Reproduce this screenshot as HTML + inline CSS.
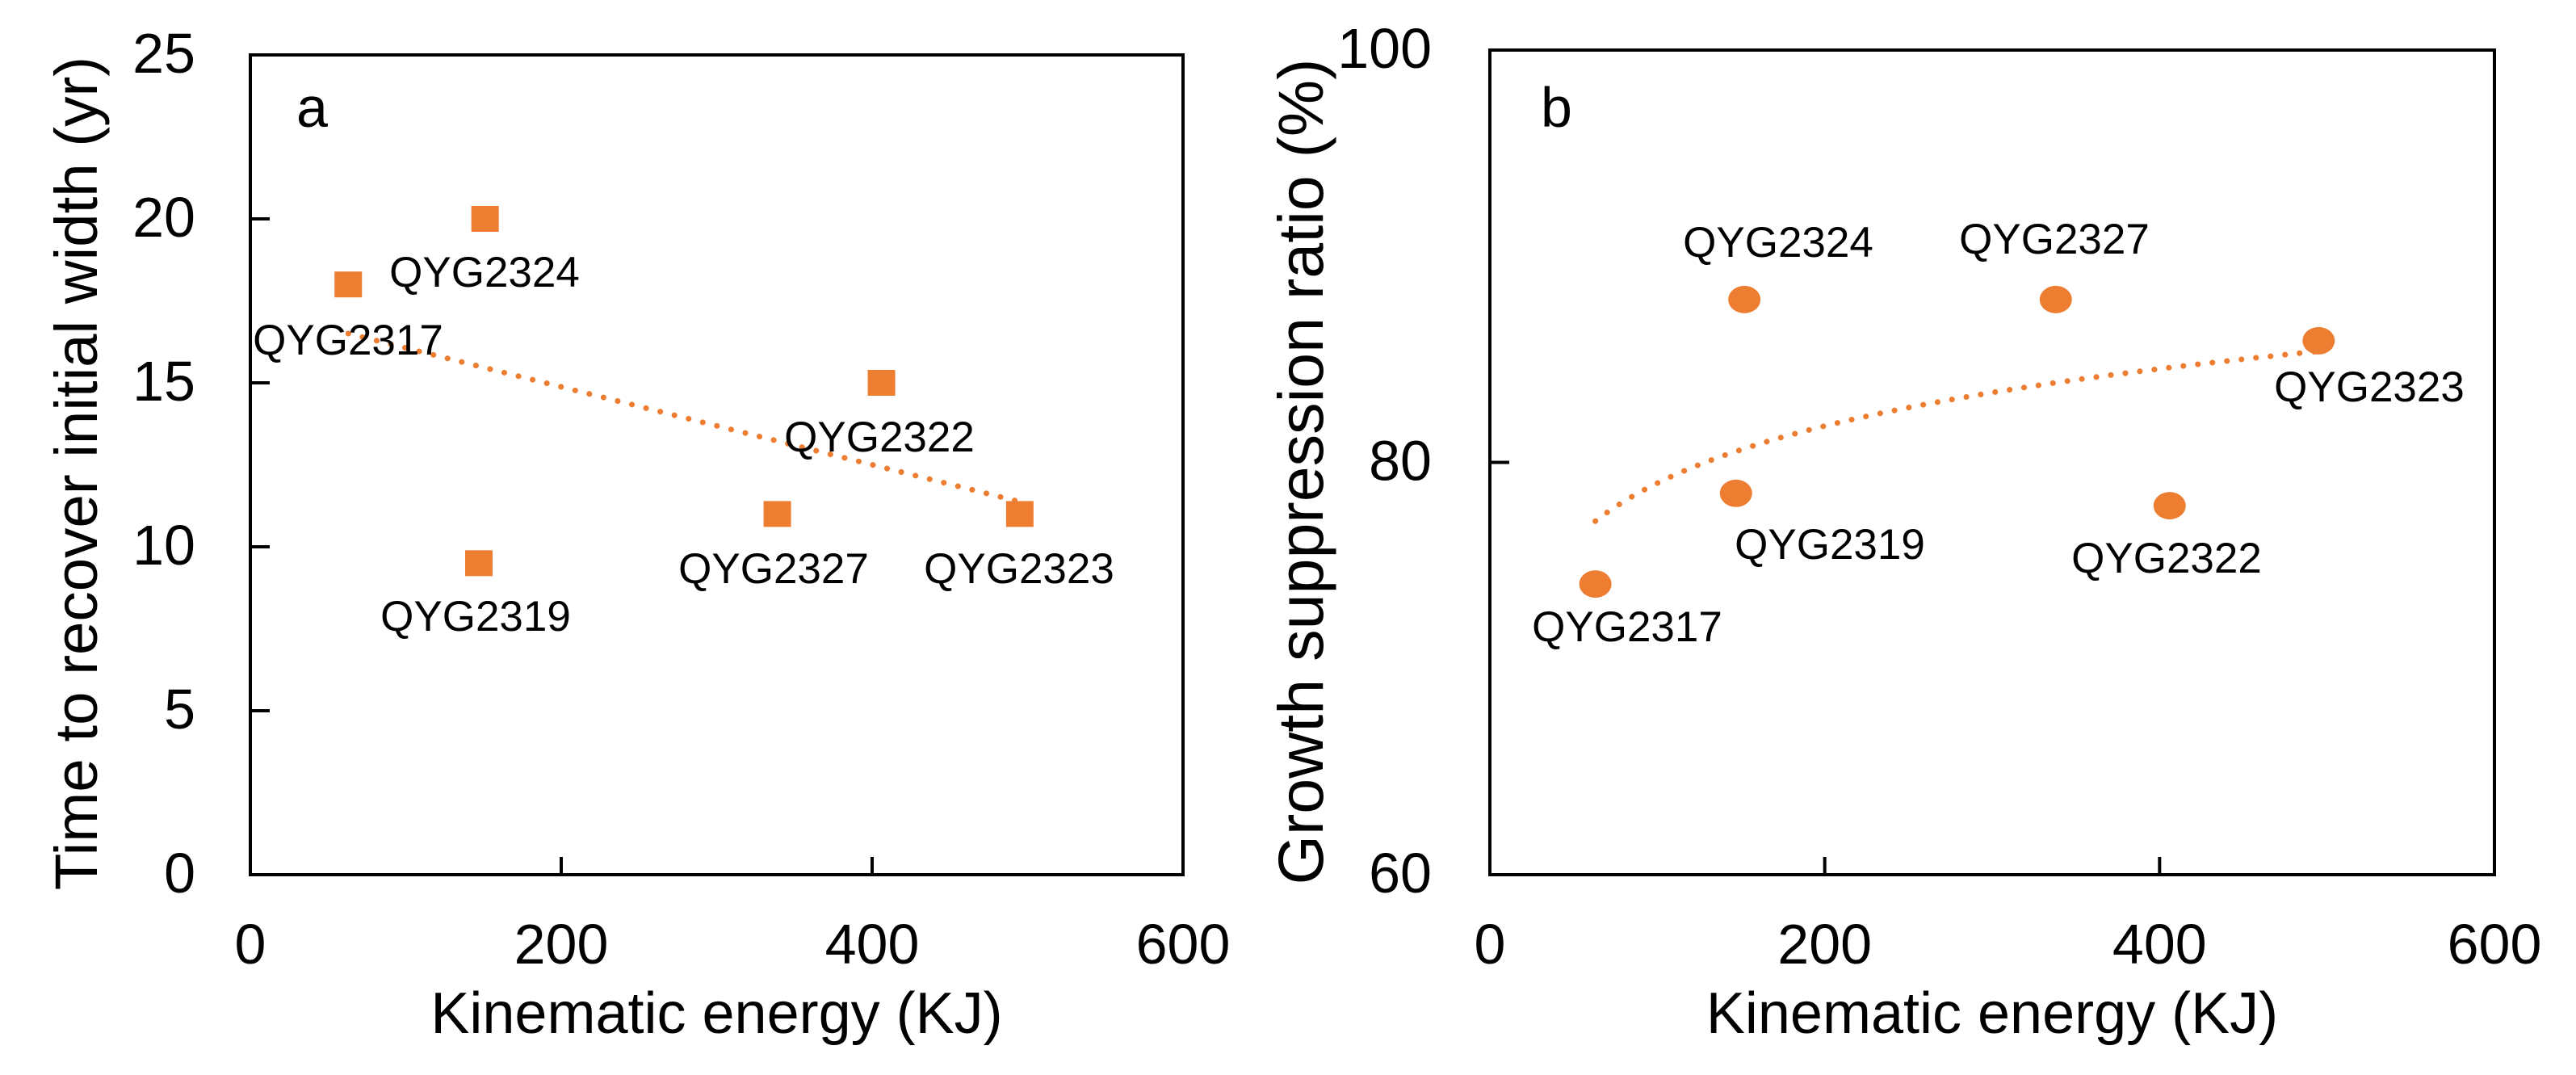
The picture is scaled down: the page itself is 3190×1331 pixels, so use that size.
<!DOCTYPE html>
<html><head><meta charset="utf-8"><style>
html,body{margin:0;padding:0;background:#fff;overflow:hidden;}
svg{display:block;font-family:"Liberation Sans",Arial,sans-serif;}
</style></head><body>
<svg id="chart" width="3190" height="1331" viewBox="0 0 3190 1331" xmlns="http://www.w3.org/2000/svg"></svg>
<script>
// Panel a data
const labelsA = ["QYG2317","QYG2324","QYG2319","QYG2322","QYG2327","QYG2323"];
const energyA = [63,151,147,406,339,495];
const timeA = [18,20,9.5,15,11,11];
const yTicksA = [0,5,10,15,20,25];
// Panel b data
const labelsB = ["QYG2317","QYG2324","QYG2319","QYG2322","QYG2327","QYG2323"];
const energyB = [63,152,147,406,338,495];
const ratioB = [74.1,87.9,78.5,77.9,87.9,85.9];
const yTicksB = [60,80,100];
const xTicks = [0,200,400,600];

const NS="http://www.w3.org/2000/svg";
const svg=document.getElementById('chart');
function mk(tag,attrs,parent){const e=document.createElementNS(NS,tag);for(const k in attrs)e.setAttribute(k,attrs[k]);(parent||svg).appendChild(e);return e;}
function txt(s,attrs,parent){const e=mk('text',attrs,parent);e.textContent=s;return e;}

const OR="#ED7D31";
const panels=[
 {id:'a',L:310,R:1465,T:68,B:1083,ymin:0,ymax:25,yt:yTicksA,xs:energyA,ys:timeA,labs:labelsA,
  title:"Time to recover initial width (yr)",titleX:120,titleY:586,titleSize:74.5,ylabX:242,
  lab:[[431,439],[600,355],[589,781],[1089,559],[958,722],[1262,722]],
  letterX:367,marker:'square',fit:'linear'},
 {id:'b',L:1845,R:3089,T:62,B:1083,ymin:60,ymax:100,yt:yTicksB,xs:energyB,ys:ratioB,labs:labelsB,
  title:"Growth suppression ratio (%)",titleX:1638,titleY:584,titleSize:79,ylabX:1773,
  lab:[[2015,794],[2202,318],[2266,692],[2683,709],[2544,314],[2934,497]],
  letterX:1908,marker:'circle',fit:'log'}
];
panels.forEach(p=>{
  const g=mk('g',{});
  
  
  const sx=v=>p.L+(v-0)/600*(p.R-p.L);
  const sy=v=>p.B-(v-p.ymin)/(p.ymax-p.ymin)*(p.B-p.T);
  const frame=mk('rect',{x:p.L,y:p.T,width:p.R-p.L,height:p.B-p.T,fill:'none',stroke:'#000','stroke-width':4},g);
  
  
  xTicks.forEach(t=>{
    if(t>0&&t<600){const l=mk('line',{x1:sx(t),x2:sx(t),y1:p.B,y2:p.B-22,stroke:'#000','stroke-width':4},g);
      }
    const e=txt(String(t),{x:sx(t),y:1193,'font-size':70,'text-anchor':'middle',fill:'#000'},g);
    
    
  });
  p.yt.forEach(t=>{
    if(t>p.ymin&&t<p.ymax){const l=mk('line',{x1:p.L,x2:p.L+24,y1:sy(t),y2:sy(t),stroke:'#000','stroke-width':4},g);
      }
    const e=txt(String(t),{x:p.ylabX,y:sy(t)+22,'font-size':70,'text-anchor':'end',fill:'#000'},g);
    
    
  });
  const xt=txt("Kinematic energy (KJ)",{x:(p.L+p.R)/2,y:1279,'font-size':72,'text-anchor':'middle',fill:'#000'},g);
  
  
  const yt=txt(p.title,{x:p.titleX,y:p.titleY,'font-size':p.titleSize,'text-anchor':'middle',fill:'#000',transform:`rotate(-90 ${p.titleX} ${p.titleY})`},g);
  
  
  const lt=txt(p.id,{x:p.letterX,y:157,'font-size':70,fill:'#000'},g);
  
  
  // trendline fit
  const n=p.xs.length;
  const fx=p.fit==='log'?(x=>Math.log(x)):(x=>x);
  const X=p.xs.map(fx);
  const mx=X.reduce((a,b)=>a+b,0)/n, my=p.ys.reduce((a,b)=>a+b,0)/n;
  let sxy=0,sxx=0;for(let i=0;i<n;i++){sxy+=(X[i]-mx)*(p.ys[i]-my);sxx+=(X[i]-mx)**2;}
  const b=sxy/sxx,a=my-b*mx;
  const x0=Math.min(...p.xs),x1=Math.max(...p.xs);
  let d='';for(let i=0;i<=60;i++){const xv=x0+(x1-x0)*i/60;d+=(i?'L':'M')+sx(xv).toFixed(1)+','+sy(a+b*fx(xv)).toFixed(1);}
  const tl=mk('path',{d:d,fill:'none',stroke:OR,'stroke-width':7,'stroke-dasharray':'0.1 18','stroke-linecap':'round'},g);
  
  
  for(let i=0;i<n;i++){
    let m;
    if(p.marker==='square') m=mk('rect',{x:sx(p.xs[i])-17,y:sy(p.ys[i])-16,width:34,height:32,fill:OR},g);
    else m=mk('ellipse',{cx:sx(p.xs[i]),cy:sy(p.ys[i]),rx:20,ry:17,fill:OR},g);
    
    
    const lb=txt(p.labs[i],{x:p.lab[i][0],y:p.lab[i][1],'font-size':53,'text-anchor':'middle',fill:'#000'},g);
    
    
  }
});
</script>
</body></html>
